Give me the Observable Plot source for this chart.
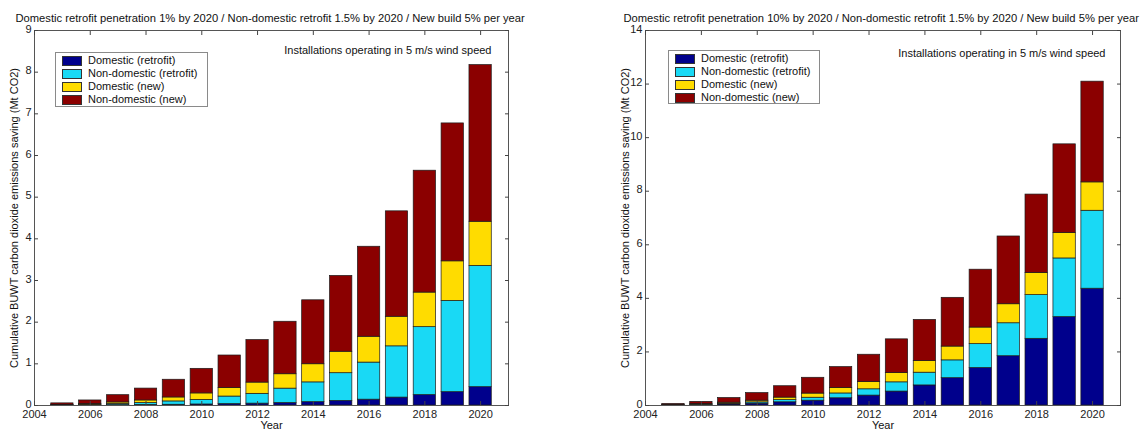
<!DOCTYPE html>
<html><head><meta charset="utf-8">
<script src="https://cdn.jsdelivr.net/npm/d3@7"></script>
<script src="https://cdn.jsdelivr.net/npm/@observablehq/plot@0.6"></script>
<style>
body{margin:0;background:#fff;font-family:"Liberation Sans",Arial,sans-serif;}
#page{position:relative;width:1147px;height:434px;overflow:hidden;background:#fff;}
.chart{position:absolute;top:0;}
.legend{position:absolute;border:1px solid #8a8a8a;background:#fff;font-size:11px;color:#111;box-sizing:border-box;}
.legend .row{position:absolute;height:13px;line-height:13px;white-space:nowrap;}
.legend .sw{position:absolute;width:20px;height:10px;border:1px solid #333;box-sizing:border-box;}
</style></head><body><div id="page"></div>
<script>
const years = [2005,2006,2007,2008,2009,2010,2011,2012,2013,2014,2015,2016,2017,2018,2019,2020];
const seriesNames = ["Domestic (retrofit)","Non-domestic (retrofit)","Domestic (new)","Non-domestic (new)"];
const seriesColors = ["#00008c","#19d9f5","#ffdc00","#8b0000"];
const domRetrofit1 = [0.003,0.005,0.008,0.012,0.018,0.025,0.035,0.045,0.06,0.08,0.11,0.14,0.19,0.25,0.32,0.44];
const domRetrofit10 = [0.01,0.02,0.04,0.07,0.12,0.18,0.27,0.37,0.52,0.75,1.02,1.40,1.84,2.49,3.30,4.36];
const nonDomRetrofit = [0.005,0.013,0.028,0.047,0.08,0.11,0.18,0.235,0.345,0.475,0.665,0.89,1.23,1.63,2.19,2.91];
const domNew = [0.008,0.018,0.037,0.062,0.095,0.155,0.205,0.27,0.345,0.435,0.515,0.62,0.71,0.83,0.95,1.06];
const nonDomNew = [0.035,0.085,0.175,0.285,0.425,0.59,0.78,1.02,1.26,1.535,1.82,2.16,2.53,2.925,3.31,3.76];
const xTicks = [2004,2006,2008,2010,2012,2014,2016,2018,2020];
const yTicksA = [0,1,2,3,4,5,6,7,8,9];
const yTicksB = [0,2,4,6,8,10,12,14];
const titleA = "Domestic retrofit penetration 1% by 2020 / Non-domestic retrofit 1.5% by 2020 / New build 5% per year";
const titleB = "Domestic retrofit penetration 10% by 2020 / Non-domestic retrofit 1.5% by 2020 / New build 5% per year";
const note = "Installations operating in 5 m/s wind speed";
const yLabel = "Cumulative BUWT carbon dioxide emissions saving (Mt CO2)";
const xLabel = "Year";

const page = document.getElementById("page");

function makeChart({domRetro, title, yMax, yTicks, left, width, mL, mR, titleDx, noteDx, noteDy, legend}) {
  const comps = [domRetro, nonDomRetrofit, domNew, nonDomNew];
  const rows = [];
  years.forEach((yr, i) => {
    let base = 0;
    comps.forEach((arr, k) => {
      rows.push({year: yr, series: seriesNames[k], y1: base, y2: base + arr[i]});
      base += arr[i];
    });
  });
  const tickStyle = {stroke: "#444", label: null, tickFormat: () => ""};
  const svg = Plot.plot({
    width, height: 434, marginLeft: mL, marginRight: mR, marginTop: 30, marginBottom: 29,
    style: {fontFamily: "Liberation Sans, Arial, sans-serif", fontSize: "11px", color: "#222", background: "transparent"},
    x: {type: "linear", domain: [2004, 2021]},
    y: {domain: [0, yMax]},
    color: {domain: seriesNames, range: seriesColors},
    marks: [
      Plot.rect(rows, {x1: d => d.year - 0.4, x2: d => d.year + 0.4, y1: "y1", y2: "y2", fill: "series", stroke: "#1a1a1a", strokeWidth: 0.7}),
      Plot.frame({stroke: "#555"}),
      Plot.axisX({anchor: "bottom", ticks: xTicks, tickSize: 0, tickPadding: 5, tickFormat: d => String(d), label: null}),
      Plot.axisX({anchor: "bottom", ticks: xTicks, tickSize: -4, ...tickStyle}),
      Plot.axisX({anchor: "top", ticks: xTicks, tickSize: -4, ...tickStyle}),
      Plot.axisY({anchor: "left", ticks: yTicks, tickSize: 0, tickPadding: 3, dy: -1.5, tickFormat: d => String(d), label: null}),
      Plot.axisY({anchor: "left", ticks: yTicks, tickSize: -4, ...tickStyle}),
      Plot.axisY({anchor: "right", ticks: yTicks, tickSize: -4, ...tickStyle}),
      Plot.text([title], {text: d => d, frameAnchor: "top-left", textAnchor: "start", dx: titleDx, dy: -16, fontSize: 11.2, fill: "#111"}),
      Plot.text([note], {text: d => d, frameAnchor: "top-right", textAnchor: "end", dx: noteDx, dy: noteDy, fontSize: 11, fill: "#111"}),
      Plot.text([yLabel], {text: d => d, frameAnchor: "left", textAnchor: "middle", rotate: -90, dx: -20, fontSize: 11, fill: "#111"}),
      Plot.text([xLabel], {text: d => d, frameAnchor: "bottom", textAnchor: "middle", dy: 23, fontSize: 11, fill: "#111"})
    ]
  });
  const wrap = document.createElement("div");
  wrap.className = "chart";
  wrap.style.left = left + "px";
  wrap.appendChild(svg);
  page.appendChild(wrap);

  const lg = document.createElement("div");
  lg.className = "legend";
  Object.assign(lg.style, {left: legend.x + "px", top: legend.y + "px", width: legend.w + "px", height: legend.h + "px"});
  seriesNames.forEach((name, k) => {
    const sw = document.createElement("div");
    sw.className = "sw";
    Object.assign(sw.style, {left: "6px", top: (legend.rowTop + k * legend.rowH + 1.5) + "px", background: seriesColors[k]});
    lg.appendChild(sw);
    const r = document.createElement("div");
    r.className = "row";
    Object.assign(r.style, {left: "32px", top: (legend.rowTop + k * legend.rowH) + "px"});
    r.textContent = name;
    lg.appendChild(r);
  });
  page.appendChild(lg);
}

makeChart({domRetro: domRetrofit1, title: titleA, yMax: 9, yTicks: yTicksA, left: 0, width: 560, mL: 34, mR: 52,
  titleDx: -19, noteDx: -17, noteDy: 16, legend: {x: 55, y: 52, w: 153, h: 55, rowTop: 1, rowH: 13}});
makeChart({domRetro: domRetrofit10, title: titleB, yMax: 14, yTicks: yTicksB, left: 600, width: 547, mL: 45, mR: 27,
  titleDx: -22, noteDx: -15, noteDy: 19, legend: {x: 668, y: 50, w: 152, h: 54, rowTop: 1, rowH: 13}});
</script>
</body></html>
